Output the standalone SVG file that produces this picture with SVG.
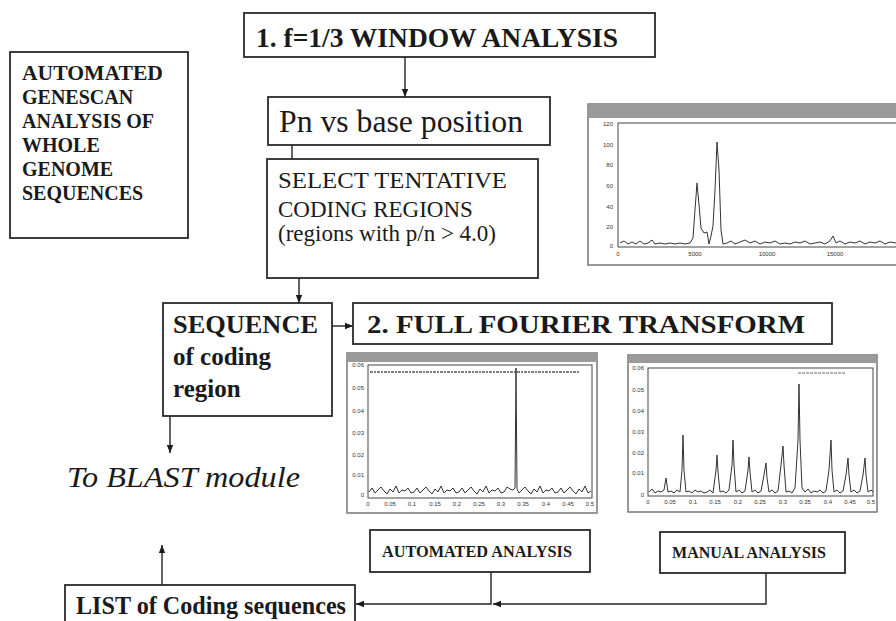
<svg xmlns="http://www.w3.org/2000/svg" width="896" height="621" viewBox="0 0 896 621">
  <style>
    .box { fill: #fff; stroke: #2a2a2a; stroke-width: 1.8; }
    .conn { fill: none; stroke: #222; stroke-width: 1.4; }
    .serif { font-family: "Liberation Serif", "Times New Roman", serif; fill: #1a1a1a; }
    .b { font-weight: bold; }
    .win { fill: #fff; stroke: #777; stroke-width: 1.5; }
    .bar { fill: #9a9a9a; }
    .plot { fill: #fff; stroke: #444; stroke-width: 1; }
    .trace { fill: none; stroke: #333; stroke-width: 1; stroke-linejoin: round; }
    .tick { font-family: "Liberation Sans", Arial, sans-serif; font-size: 6px; fill: #333; }
  </style>
  <defs>
    <marker id="arrow" viewBox="0 0 10 10" refX="10" refY="5" markerWidth="8" markerHeight="8" markerUnits="userSpaceOnUse" orient="auto">
      <path d="M0,1 L10,5 L0,9 z" fill="#1a1a1a"/>
    </marker>
  </defs>

  <rect width="896" height="621" fill="#fff"/>

  <!-- connectors -->
  <g id="connectors">
    <path class="conn" d="M405,57 V97" marker-end="url(#arrow)"/>
    <path class="conn" d="M292,145 V159"/>
    <path class="conn" d="M299,278 V303" marker-end="url(#arrow)"/>
    <path class="conn" d="M332,326 H353" marker-end="url(#arrow)"/>
    <path class="conn" d="M170,416 V453" marker-end="url(#arrow)"/>
    <path class="conn" d="M162,585 V545" marker-end="url(#arrow)"/>
    <path class="conn" d="M491,572 V604 H356" marker-end="url(#arrow)"/>
    <path class="conn" d="M766,573 V604 H493" marker-end="url(#arrow)"/>
  </g>

  <!-- title block -->
  <g id="genescan">
    <rect class="box" x="10" y="52" width="178" height="186"/>
    <g class="serif b" font-size="20">
      <text x="22" y="80" textLength="141" lengthAdjust="spacingAndGlyphs">AUTOMATED</text>
      <text x="22" y="104">GENESCAN</text>
      <text x="22" y="128">ANALYSIS OF</text>
      <text x="22" y="152">WHOLE</text>
      <text x="22" y="176">GENOME</text>
      <text x="22" y="200">SEQUENCES</text>
    </g>
  </g>

  <g id="window-analysis">
    <rect class="box" x="244" y="13" width="411" height="44"/>
    <text class="serif b" x="256" y="47" font-size="27" textLength="362" lengthAdjust="spacingAndGlyphs">1.  f=1/3 WINDOW ANALYSIS</text>
  </g>

  <g id="pn-position">
    <rect class="box" x="268" y="97" width="282" height="48"/>
    <text class="serif" x="279" y="132" font-size="31" textLength="244" lengthAdjust="spacingAndGlyphs">Pn vs base position</text>
  </g>

  <g id="select-regions">
    <rect class="box" x="267" y="159" width="271" height="119"/>
    <g class="serif" font-size="23">
      <text x="278" y="188" textLength="229" lengthAdjust="spacingAndGlyphs">SELECT TENTATIVE</text>
      <text x="278" y="217">CODING REGIONS</text>
      <text x="278" y="241">(regions with p/n &gt; 4.0)</text>
    </g>
  </g>

  <g id="sequence">
    <rect class="box" x="163" y="303" width="169" height="113"/>
    <g class="serif b" font-size="25">
      <text x="173" y="333" textLength="145" lengthAdjust="spacingAndGlyphs">SEQUENCE</text>
      <text x="173" y="365">of coding</text>
      <text x="173" y="397">region</text>
    </g>
  </g>

  <g id="fourier">
    <rect class="box" x="353" y="303" width="479" height="41"/>
    <text class="serif b" x="367" y="333" font-size="26" textLength="438" lengthAdjust="spacingAndGlyphs">2. FULL FOURIER TRANSFORM</text>
  </g>

  <g id="blast">
    <text class="serif" x="67" y="487" font-size="30" font-style="italic" textLength="233" lengthAdjust="spacingAndGlyphs">To BLAST module</text>
  </g>

  <g id="automated-analysis">
    <rect class="box" x="370" y="530" width="220" height="42"/>
    <text class="serif b" x="382" y="557" font-size="17" textLength="190" lengthAdjust="spacingAndGlyphs">AUTOMATED ANALYSIS</text>
  </g>

  <g id="manual-analysis">
    <rect class="box" x="660" y="532" width="185" height="41"/>
    <text class="serif b" x="672" y="558" font-size="17" textLength="154" lengthAdjust="spacingAndGlyphs">MANUAL ANALYSIS</text>
  </g>

  <g id="coding-list">
    <rect class="box" x="65" y="585" width="290" height="45"/>
    <text class="serif b" x="76" y="614" font-size="25" textLength="270" lengthAdjust="spacingAndGlyphs">LIST of Coding sequences</text>
  </g>

  <!-- window-analysis plot: Pn vs base position -->
  <g id="plot-window">
    <rect class="win" x="588" y="104" width="320" height="161"/>
    <rect class="bar" x="589" y="105" width="318" height="13"/>
    <rect class="plot" x="618" y="123" width="290" height="124"/>
    <g class="tick" text-anchor="end">
      <text x="613" y="126">120</text>
      <text x="613" y="147">100</text>
      <text x="613" y="167">80</text>
      <text x="613" y="188">60</text>
      <text x="613" y="209">40</text>
      <text x="613" y="229">20</text>
      <text x="613" y="248">0</text>
    </g>
    <g class="tick" text-anchor="middle">
      <text x="618" y="256">0</text>
      <text x="695" y="256">5000</text>
      <text x="767" y="256">10000</text>
      <text x="835" y="256">15000</text>
    </g>
    <polyline class="trace" points="620,243 624,241 628,244 632,242 636,244 640,241 644,244 648,243 652,240 655,244 660,243 665,244 670,243 675,244 680,243 685,244 690,243 693,238 695,210 697,183 699,205 701,228 704,233 707,232 709,244 711,236 713,226 715,190 717,142 719,170 721,230 723,244 727,243 731,241 735,244 740,242 745,240 750,243 755,241 760,244 765,242 770,243 775,241 780,244 785,243 790,244 795,242 800,243 805,241 810,244 815,243 820,242 825,244 830,241 833,236 836,243 840,241 845,244 850,242 855,243 860,241 865,244 870,242 875,243 880,241 885,244 890,242 896,243"/>
  </g>

  <!-- Fourier spectrum, automated analysis -->
  <g id="plot-automated">
    <rect class="win" x="347" y="353" width="250" height="160"/>
    <rect class="bar" x="348" y="354" width="248" height="8"/>
    <rect class="plot" x="368" y="365" width="224" height="133"/>
    <line x1="370" y1="372" x2="580" y2="372" stroke="#555" stroke-width="1.5" stroke-dasharray="3 1 2 1"/>
    <g class="tick" text-anchor="end">
      <text x="364" y="367">0.06</text>
      <text x="364" y="390">0.05</text>
      <text x="364" y="413">0.04</text>
      <text x="364" y="435">0.03</text>
      <text x="364" y="457">0.02</text>
      <text x="364" y="477">0.01</text>
      <text x="364" y="497">0</text>
    </g>
    <g class="tick" text-anchor="middle">
      <text x="368" y="506">0</text>
      <text x="390" y="506">0.05</text>
      <text x="412" y="506">0.1</text>
      <text x="435" y="506">0.15</text>
      <text x="457" y="506">0.2</text>
      <text x="479" y="506">0.25</text>
      <text x="501" y="506">0.3</text>
      <text x="523" y="506">0.35</text>
      <text x="546" y="506">0.4</text>
      <text x="568" y="506">0.45</text>
      <text x="590" y="506">0.5</text>
    </g>
    <polyline class="trace" points="369,492 372,488 375,493 378,490 381,487 384,491 387,494 390,489 393,492 396,486 399,493 402,490 405,491 408,488 411,493 414,492 417,488 420,493 423,490 426,487 429,491 432,494 435,489 438,492 441,486 444,493 447,490 450,491 453,488 456,493 459,492 462,488 465,493 468,490 471,487 474,491 477,494 480,489 483,492 486,486 489,493 492,490 495,491 498,488 501,493 504,492 507,487 510,489 513,490 515,488 516,368 517,489 519,493 522,490 525,487 528,491 531,494 534,489 537,492 540,486 543,493 546,490 549,491 552,488 555,493 558,492 561,488 564,493 567,490 570,487 573,491 576,494 579,489 582,492 585,486 588,493 591,491"/>
  </g>

  <!-- Fourier spectrum, manual analysis -->
  <g id="plot-manual">
    <rect class="win" x="628" y="355" width="249" height="157"/>
    <rect class="bar" x="629" y="356" width="247" height="7"/>
    <rect class="plot" x="648" y="368" width="225" height="128"/>
    <line x1="798" y1="373" x2="846" y2="373" stroke="#666" stroke-width="1.2" stroke-dasharray="3 1"/>
    <g class="tick" text-anchor="end">
      <text x="644" y="370">0.06</text>
      <text x="644" y="392">0.05</text>
      <text x="644" y="413">0.04</text>
      <text x="644" y="434">0.03</text>
      <text x="644" y="455">0.02</text>
      <text x="644" y="475">0.01</text>
      <text x="644" y="497">0</text>
    </g>
    <g class="tick" text-anchor="middle">
      <text x="648" y="504">0</text>
      <text x="670" y="504">0.05</text>
      <text x="693" y="504">0.1</text>
      <text x="715" y="504">0.15</text>
      <text x="738" y="504">0.2</text>
      <text x="760" y="504">0.25</text>
      <text x="783" y="504">0.3</text>
      <text x="805" y="504">0.35</text>
      <text x="828" y="504">0.4</text>
      <text x="850" y="504">0.45</text>
      <text x="871" y="504">0.5</text>
    </g>
    <polyline class="trace" points="649,492 652,489 655,493 658,491 661,492 664,490 666,478 668,492 671,491 674,493 677,490 680,492 682,470 683,435 684,470 686,492 689,491 692,493 695,490 698,492 701,491 704,493 707,492 710,490 713,493 716,470 717,455 718,472 720,492 723,491 726,493 729,490 732,465 733,440 734,465 736,492 739,490 742,493 745,491 748,470 749,457 750,472 752,492 755,490 758,493 761,491 764,475 766,463 767,478 769,492 772,490 775,493 778,491 781,465 783,446 784,465 786,492 789,491 792,493 795,488 798,440 799,384 800,440 802,488 805,492 808,489 811,493 814,491 817,492 820,490 823,493 826,491 829,470 831,440 832,470 834,492 837,490 840,493 843,491 846,475 848,458 849,475 851,492 854,490 857,493 860,491 863,475 865,458 866,475 868,492 871,490 873,492"/>
  </g>
</svg>
